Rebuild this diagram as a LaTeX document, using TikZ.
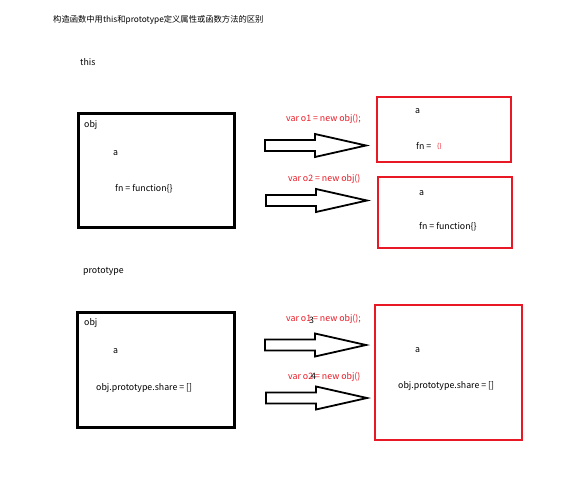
\documentclass[tikz,border=0pt]{standalone}
\usepackage{fontspec}
\setmainfont{Noto Sans CJK SC}
\definecolor{boxred}{RGB}{232,24,36}
\tikzset{
  objbox/.style={draw=black, line width=2.6pt, inner sep=0pt, anchor=north west},
  newbox/.style={draw=boxred, line width=2.4pt, inner sep=0pt, anchor=north west},
  txt/.style={anchor=west, inner sep=0pt, font=\fontsize{8.8}{10}\selectfont},
  redtxt/.style={txt, text=boxred},
  fatarrow/.pic={
    \draw[line width=1.8pt, line join=miter, fill=white]
      (0,-5.5) -- (50,-5.5) -- (50,-11.5) -- (101,0) -- (50,11.5) -- (50,5.5) -- (0,5.5) -- cycle;
  },
}
\begin{document}
\begin{tikzpicture}[x=1pt,y=-1pt]
\useasboundingbox (0,0) rectangle (585,500);

\node[txt, font=\fontsize{8.3}{10}\selectfont] (title) at (53,20) {构造函数中用this和prototype定义属性或函数方法的区别};

% this
\node[txt] (thishead) at (80,62) {this};
\node[objbox, minimum width=156pt, minimum height=114pt] (thisobj) at (77,112) {};
\node[txt] (thisname) at (84,125) {obj};
\node[txt] (thisa) at (113,153) {a};
\node[txt] (thisfn) at (115,189) {fn = function\{\}};

\pic at (265,145.5) {fatarrow};
\pic at (266,200.5) {fatarrow};

\node[redtxt] (newo1) at (286,119) {var o1 = new obj();};
\node[redtxt] (newo2) at (288,179) {var o2 = new obj()};

\node[newbox, minimum width=134pt, minimum height=65pt] (o1box) at (376,96) {};
\node[txt] (o1a) at (415,111) {a};
\node[txt] (o1fn) at (416,146) {fn =};
\node[redtxt, font=\fontsize{6.5}{8}\selectfont] (o1body) at (437,146.5) {\{\}};

\node[newbox, minimum width=134pt, minimum height=71pt] (o2box) at (377,176) {};
\node[txt] (o2a) at (419,193) {a};
\node[txt] (o2fn) at (419,227) {fn = function\{\}};

% prototype
\node[txt] (protohead) at (83,271) {prototype};
\node[objbox, minimum width=157pt, minimum height=115pt] (protoobj) at (76,311) {};
\node[txt] (protoname) at (84,323) {obj};
\node[txt] (protoa) at (113,351) {a};
\node[txt] (protoshare) at (96,388) {obj.prototype.share = []};

\pic at (265,345) {fatarrow};
\pic at (266,398) {fatarrow};

\node[redtxt] (newo3) at (286,319) {var o1 = new obj();};
\node[redtxt] (newo4) at (288,377) {var o2 = new obj()};
\node[txt] (mark3) at (309,320) {3};
\node[txt] (mark4) at (311,376) {4};

\node[newbox, minimum width=147pt, minimum height=135pt] (sharebox) at (374,304) {};
\node[txt] (sharea) at (415,350) {a};
\node[txt] (shareval) at (398,386) {obj.prototype.share = []};
\end{tikzpicture}
\end{document}
